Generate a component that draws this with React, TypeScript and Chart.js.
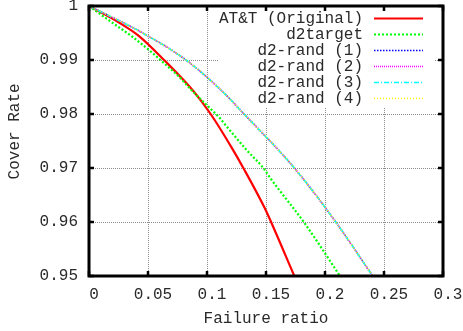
import { useEffect, useRef } from 'react';
import { Chart, registerables } from 'chart.js';

Chart.register(...registerables);

// ---- data ----
const seriesLabels = ['AT&T (Original)', 'd2target', 'd2-rand (1)', 'd2-rand (2)', 'd2-rand (3)', 'd2-rand (4)'];

const attX = [0, 0.0254, 0.0424, 0.0636, 0.0884, 0.1031, 0.1209, 0.1308, 0.149, 0.1543, 0.174];
const attY = [1, 0.99694, 0.99444, 0.99, 0.98426, 0.98, 0.97378, 0.97, 0.96254, 0.96, 0.95];

const targetX = [0, 0.0085, 0.0226, 0.0367, 0.0508, 0.0621, 0.0763, 0.0884, 0.0997, 0.111, 0.118, 0.1336, 0.1477, 0.1548, 0.1613, 0.182, 0.2127];
const targetY = [1, 0.99865, 0.99648, 0.99431, 0.99185, 0.98969, 0.98691, 0.98407, 0.98167, 0.9792, 0.97735, 0.97333, 0.97, 0.96778, 0.9659, 0.96, 0.95];

const randX = [0, 0.0212, 0.0424, 0.0822, 0.1124, 0.1314, 0.174, 0.2091, 0.2404];
const rand1Y = [1, 0.99775, 0.99537, 0.99, 0.98431, 0.98, 0.97, 0.96, 0.95];
const rand2Y = [1, 0.99775, 0.99537, 0.99, 0.98431, 0.98, 0.97, 0.96, 0.95];
const rand3Y = [1, 0.99775, 0.99537, 0.99, 0.98431, 0.98, 0.97, 0.96, 0.95];
const rand4Y = [1, 0.99775, 0.99537, 0.99, 0.98431, 0.98, 0.97, 0.96, 0.95];

const xTickStep = 0.05;
const yTickStep = 0.01;

const FONT = "'Liberation Mono', 'DejaVu Sans Mono', monospace";
const TEXT = '#2a2a2a';

const pts = (xs: number[], ys: number[]) => xs.map((x, i) => ({ x, y: ys[i] }));

const gnuplotPlugin = {
  id: 'gnuplotDecor',
  beforeDatasetsDraw(chart: any) {
    const { ctx, chartArea } = chart;
    const { left, right, top, bottom } = chartArea;
    const xs = chart.scales.x;
    const ys = chart.scales.y;
    ctx.save();
    // dotted grid
    ctx.strokeStyle = '#8c8c8c';
    ctx.lineWidth = 1;
    ctx.setLineDash([1, 1]);
    ctx.beginPath();
    xs.ticks.forEach((t: any) => {
      if (t.value <= xs.min || t.value >= xs.max) return;
      const px = Math.round(xs.getPixelForValue(t.value)) + 0.5;
      ctx.moveTo(px, top); ctx.lineTo(px, bottom);
    });
    ys.ticks.forEach((t: any) => {
      if (t.value <= ys.min || t.value >= ys.max) return;
      const py = Math.round(ys.getPixelForValue(t.value)) + 0.5;
      ctx.moveTo(left, py); ctx.lineTo(right, py);
    });
    ctx.stroke();
    // opaque key box
    ctx.setLineDash([]);
    ctx.fillStyle = '#fff';
    ctx.fillRect(219, top, 215, 101);
    ctx.restore();
  },
  afterDatasetsDraw(chart: any) {
    const { ctx, chartArea } = chart;
    const { left, right, top, bottom } = chartArea;
    const xs = chart.scales.x;
    const ys = chart.scales.y;
    ctx.save();
    // inner ticks (mirrored)
    ctx.strokeStyle = '#000';
    ctx.lineWidth = 2.5;
    ctx.beginPath();
    xs.ticks.forEach((t: any) => {
      const px = xs.getPixelForValue(t.value);
      ctx.moveTo(px, bottom); ctx.lineTo(px, bottom - 5);
      ctx.moveTo(px, top); ctx.lineTo(px, top + 5);
    });
    ys.ticks.forEach((t: any) => {
      const py = ys.getPixelForValue(t.value);
      ctx.moveTo(left, py); ctx.lineTo(left + 5, py);
      ctx.moveTo(right, py); ctx.lineTo(right - 5, py);
    });
    ctx.stroke();
    // frame
    ctx.lineWidth = 3;
    ctx.strokeRect(left, top, right - left, bottom - top);
    // key
    ctx.font = `16px ${FONT}`;
    ctx.textAlign = 'right';
    ctx.textBaseline = 'middle';
    chart.data.datasets.forEach((ds: any, i: number) => {
      const y = 18.5 + 16 * i;
      ctx.fillStyle = TEXT;
      ctx.fillText(ds.label, 363, y);
      ctx.strokeStyle = ds.borderColor;
      ctx.lineWidth = ds.borderWidth;
      ctx.setLineDash(ds.borderDash || []);
      ctx.beginPath();
      ctx.moveTo(374, y);
      ctx.lineTo(423, y);
      ctx.stroke();
    });
    ctx.restore();
  },
};

export default function App() {
  const ref = useRef<HTMLCanvasElement>(null);
  useEffect(() => {
    const common = { pointRadius: 0, cubicInterpolationMode: 'monotone' as const, fill: false };
    const chart = new Chart(ref.current!, {
      type: 'line',
      data: {
        datasets: [
          { ...common, order: 5, label: seriesLabels[0], data: pts(attX, attY), borderColor: '#ff0000', borderWidth: 2.2, borderDash: [] },
          { ...common, order: 4, label: seriesLabels[1], data: pts(targetX, targetY), borderColor: '#00ff00', borderWidth: 2.2, borderDash: [2, 2] },
          { ...common, order: 3, label: seriesLabels[2], data: pts(randX, rand1Y), borderColor: '#0000ff', borderWidth: 1.6, borderDash: [1.5, 1.5] },
          { ...common, order: 2, label: seriesLabels[3], data: pts(randX, rand2Y), borderColor: '#ff00ff', borderWidth: 1.6, borderDash: [1, 1] },
          { ...common, order: 1, label: seriesLabels[4], data: pts(randX, rand3Y), borderColor: '#00ffff', borderWidth: 1.6, borderDash: [5, 2, 1, 2] },
          { ...common, order: 0, label: seriesLabels[5], data: pts(randX, rand4Y), borderColor: '#ffff00', borderWidth: 1.6, borderDash: [1, 2] },
        ],
      },
      options: {
        responsive: false,
        animation: false,
        layout: { padding: { left: 0, top: 6, right: 20, bottom: 0 } },
        plugins: { legend: { display: false }, tooltip: { enabled: false } },
        scales: {
          x: {
            type: 'linear',
            min: 0,
            max: 0.3,
            border: { display: false },
            grid: { display: false, drawTicks: false },
            ticks: {
              stepSize: xTickStep,
              padding: 9,
              labelOffset: 5,
              color: TEXT,
              font: { family: FONT, size: 16 },
              callback: (v: any) => String(+Number(v).toFixed(2)),
            },
            title: { display: true, text: 'Failure ratio', color: TEXT, font: { family: FONT, size: 16 }, padding: { top: 0, bottom: 3 } },
            afterFit: (s: any) => { s.height = 55; s.paddingLeft = 0; s.paddingRight = 0; },
          },
          y: {
            type: 'linear',
            min: 0.95,
            max: 1,
            border: { display: false },
            grid: { display: false, drawTicks: false },
            ticks: {
              stepSize: yTickStep,
              padding: 11,
              color: TEXT,
              font: { family: FONT, size: 16 },
              callback: (v: any) => String(+Number(v).toFixed(2)),
            },
            title: { display: true, text: '  Cover Rate', color: TEXT, font: { family: FONT, size: 16 }, padding: { top: 5, bottom: 0 } },
            afterFit: (s: any) => { s.width = 89; s.paddingTop = 0; s.paddingBottom = 0; },
          },
        },
      },
      plugins: [gnuplotPlugin],
    });
    return () => chart.destroy();
  }, []);
  return (
    <div style={{ position: 'fixed', left: 0, top: 0, width: 463, height: 331, background: '#fff' }}>
      <canvas ref={ref} width={463} height={331} style={{ display: 'block' }} />
    </div>
  );
}
